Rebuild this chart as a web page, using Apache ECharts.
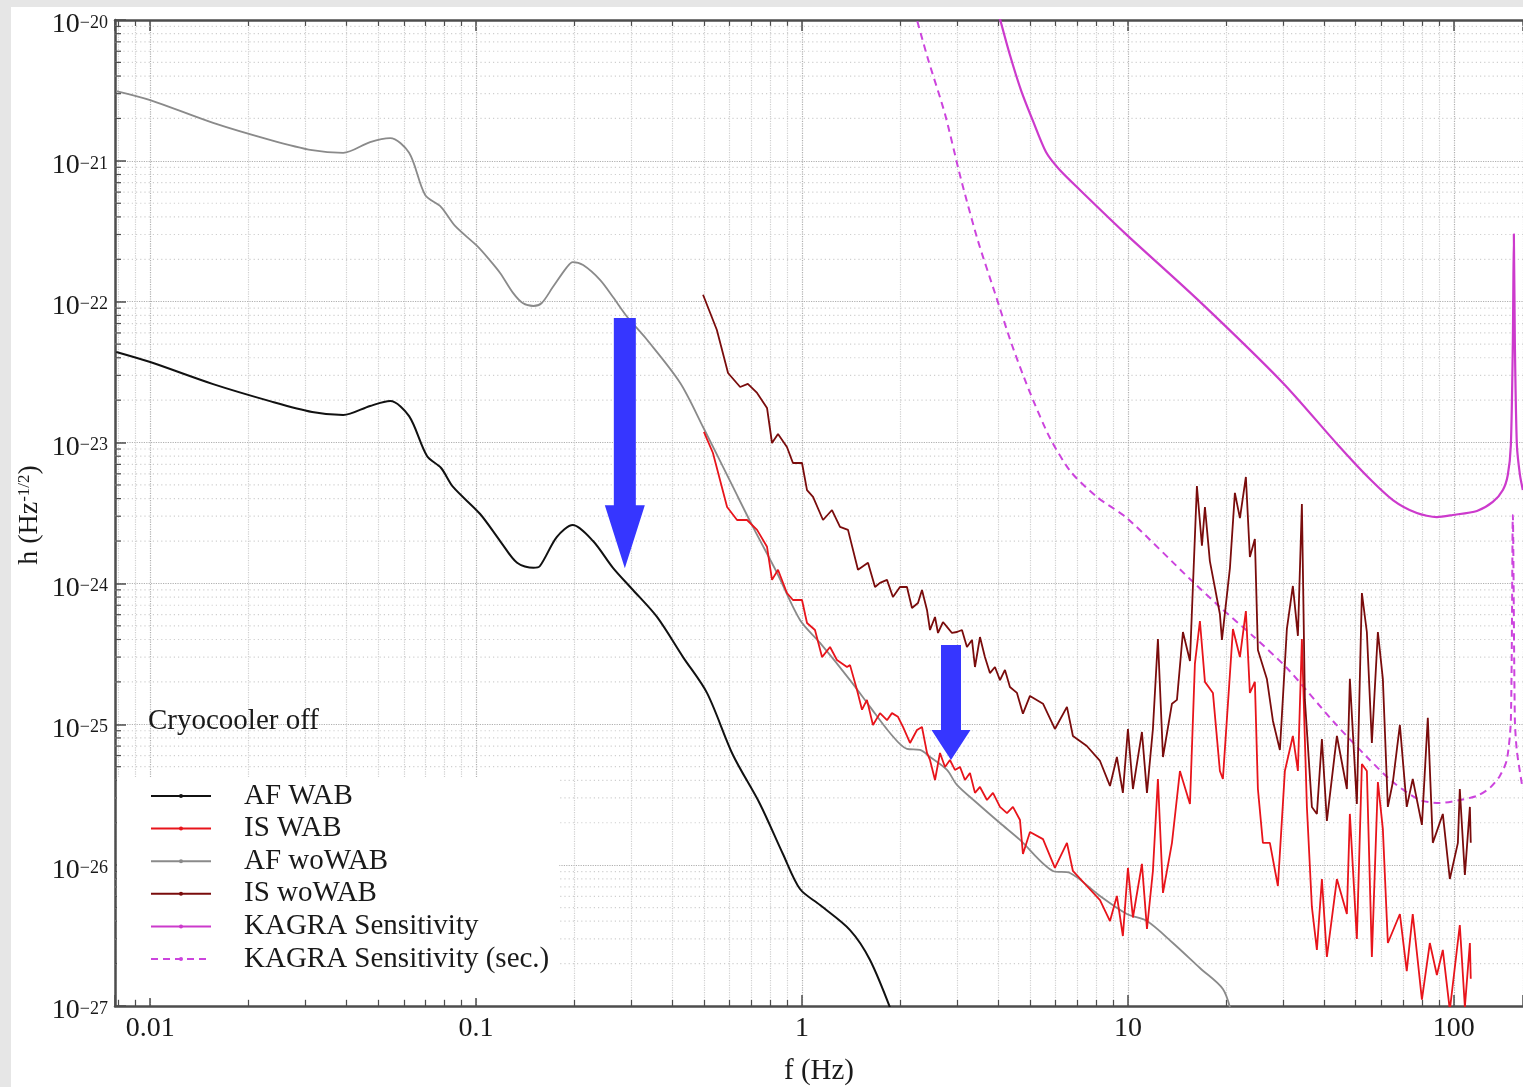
<!DOCTYPE html>
<html>
<head>
<meta charset="utf-8">
<script src="https://cdn.jsdelivr.net/npm/echarts@6/dist/echarts.min.js"></script>
<style>
html, body { margin: 0; padding: 0; background: #e6e6e6; }
#main { position: absolute; left: 11px; top: 7px; width: 1512px; height: 1080px; background: #fff; }
</style>
</head>
<body>
<div id="main"></div>
<script>
// 数据: [f (Hz), h (Hz^-1/2)]
var afWAB = [[0.00787,4.40e-23],[0.01,3.73e-23],[0.0156,2.60e-23],[0.0233,1.97e-23],[0.0314,1.65e-23],[0.0391,1.57e-23],[0.0473,1.82e-23],[0.0545,1.97e-23],[0.0623,1.54e-23],[0.0707,8.03e-24],[0.0781,6.60e-24],[0.085,4.84e-24],[0.1029,3.11e-24],[0.1185,2.00e-24],[0.1336,1.40e-24],[0.150,1.29e-24],[0.157,1.33e-24],[0.177,2.14e-24],[0.198,2.60e-24],[0.2285,2.00e-24],[0.263,1.29e-24],[0.303,8.98e-25],[0.359,5.78e-25],[0.4315,3.00e-25],[0.511,1.67e-25],[0.614,6.05e-26],[0.743,2.72e-26],[0.874,1.20e-26],[0.986,6.77e-27],[1.136,5.21e-27],[1.404,3.46e-27],[1.617,2.12e-27],[1.901,8.6e-28]];

var afWoWAB = [[0.00787,3.13e-21],[0.01,2.70e-21],[0.0156,1.86e-21],[0.0233,1.41e-21],[0.0314,1.19e-21],[0.0391,1.14e-21],[0.0473,1.36e-21],[0.0545,1.45e-21],[0.0623,1.14e-21],[0.0698,5.72e-22],[0.0781,4.70e-22],[0.0862,3.45e-22],[0.1007,2.49e-22],[0.110,1.98e-22],[0.1185,1.60e-22],[0.130,1.15e-22],[0.139,9.79e-23],[0.150,9.32e-23],[0.159,9.79e-23],[0.172,1.27e-22],[0.190,1.76e-22],[0.198,1.91e-22],[0.213,1.82e-22],[0.240,1.43e-22],[0.263,1.08e-22],[0.291,7.79e-23],[0.335,5.35e-23],[0.423,2.65e-23],[0.497,1.29e-23],[0.614,4.84e-24],[0.707,2.52e-24],[0.838,1.19e-24],[0.986,5.50e-25],[1.136,3.78e-25],[1.404,2.06e-25],[1.617,1.33e-25],[1.862,8.67e-26],[2.099,6.68e-26],[2.301,6.57e-26],[2.470,5.86e-26],[2.785,4.74e-26],[2.988,3.71e-26],[3.442,2.76e-26],[4.050,1.99e-26],[4.665,1.51e-26],[5.888,9.09e-27],[6.64,8.80e-27],[8.21,6.04e-27],[9.93,4.50e-27],[11.44,4.01e-27],[13.74,2.80e-27],[16.63,1.86e-27],[19.56,1.32e-27],[20.85,8.6e-28]];

var isWAB = [[0.5,1.19e-23],[0.533,8.43e-24],[0.589,3.49e-24],[0.632,2.82e-24],[0.678,2.82e-24],[0.728,2.40e-24],[0.781,1.82e-24],[0.809,1.06e-24],[0.844,1.25e-24],[0.899,8.55e-25],[0.938,7.63e-25],[1.0,7.63e-25],[1.036,5.24e-25],[1.096,4.67e-25],[1.152,3.00e-25],[1.219,3.54e-25],[1.280,2.86e-25],[1.374,2.55e-25],[1.404,2.63e-25],[1.475,1.75e-25],[1.528,1.27e-25],[1.582,1.49e-25],[1.651,9.89e-26],[1.735,1.20e-25],[1.823,1.07e-25],[1.888,1.20e-25],[1.970,1.13e-25],[2.041,9.57e-26],[2.145,7.37e-26],[2.253,9.11e-26],[2.334,9.57e-26],[2.418,6.26e-26],[2.470,5.58e-26],[2.559,4.02e-26],[2.651,6.26e-26],[2.746,4.98e-26],[2.844,5.58e-26],[2.946,4.74e-26],[3.053,4.98e-26],[3.162,4.02e-26],[3.276,4.51e-26],[3.394,3.26e-26],[3.516,3.59e-26],[3.694,2.90e-26],[3.854,3.26e-26],[4.050,2.59e-26],[4.255,2.34e-26],[4.438,2.59e-26],[4.665,2.09e-26],[4.763,1.20e-26],[5.005,1.72e-26],[5.488,1.53e-26],[5.97,9.55e-27],[6.50,1.44e-26],[6.78,9.09e-27],[7.48,7.11e-27],[8.21,5.65e-27],[8.81,4.01e-27],[9.25,6.04e-27],[9.65,3.14e-27],[10.0,9.55e-27],[10.36,4.25e-27],[11.04,1.02e-26],[11.44,3.52e-27],[11.93,9.09e-27],[12.36,4.09e-26],[12.81,6.35e-27],[13.65,1.44e-26],[14.44,4.66e-26],[15.50,2.72e-26],[16.05,2.68e-25],[16.63,5.41e-25],[17.23,2.00e-25],[18.23,1.67e-25],[19.15,4.66e-26],[19.56,4.09e-26],[21.0,4.75e-25],[22.06,3.00e-25],[23.01,6.37e-25],[23.67,1.67e-25],[24.52,2.00e-25],[25.05,3.47e-26],[25.95,1.44e-26],[27.26,1.44e-26],[28.85,7.11e-27],[30.31,4.66e-26],[32.07,8.26e-26],[33.23,4.66e-26],[34.18,4.03e-25],[35.41,2.59e-26],[36.68,5.05e-27],[38.00,2.50e-27],[39.37,7.97e-27],[40.78,2.23e-27],[43.77,7.97e-27],[46.97,4.50e-27],[47.97,2.31e-26],[50.40,2.99e-27],[52.22,5.22e-26],[54.09,4.66e-26],[56.04,2.23e-27],[58.47,3.89e-26],[60.56,1.81e-26],[62.74,2.80e-27],[68.3,4.50e-27],[71.7,1.77e-27],[74.8,4.50e-27],[79.8,1.11e-27],[84.4,2.80e-27],[88.7,1.66e-27],[92.5,2.50e-27],[97.2,9.37e-28],[104.3,3.76e-27],[108.1,9.84e-28],[112.0,2.80e-27],[112.7,1.56e-27]];

var isWoWAB = [[0.497,1.12e-22],[0.548,6.30e-23],[0.593,3.12e-23],[0.646,2.48e-23],[0.682,2.61e-23],[0.728,2.25e-23],[0.781,1.76e-23],[0.809,9.93e-24],[0.844,1.15e-23],[0.899,9.30e-24],[0.938,7.16e-24],[1.0,7.16e-24],[1.036,4.60e-24],[1.081,4.11e-24],[1.160,2.82e-24],[1.236,3.32e-24],[1.308,2.52e-24],[1.384,2.40e-24],[1.485,1.25e-24],[1.594,1.40e-24],[1.675,9.43e-25],[1.735,1.01e-24],[1.823,1.06e-24],[1.901,8.01e-25],[1.998,9.43e-25],[2.099,9.43e-25],[2.175,6.69e-25],[2.269,7.26e-25],[2.334,8.98e-25],[2.418,6.48e-25],[2.470,4.67e-25],[2.559,5.78e-25],[2.614,4.45e-25],[2.707,5.32e-25],[2.785,4.91e-25],[2.885,4.45e-25],[2.988,4.52e-25],[3.096,4.67e-25],[3.207,3.54e-25],[3.323,3.97e-25],[3.394,2.55e-25],[3.516,4.16e-25],[3.641,3.00e-25],[3.772,2.31e-25],[3.908,2.55e-25],[4.050,2.06e-25],[4.195,2.43e-25],[4.345,1.84e-25],[4.566,1.67e-25],[4.763,1.19e-25],[5.005,1.59e-25],[5.488,1.40e-25],[5.97,9.26e-26],[6.50,1.33e-25],[6.78,8.26e-26],[7.48,7.01e-26],[8.21,5.49e-26],[8.81,3.65e-26],[9.25,5.86e-26],[9.65,3.26e-26],[10.0,9.26e-26],[10.36,3.47e-26],[11.04,8.82e-26],[11.44,3.26e-26],[11.93,9.26e-26],[12.36,4.03e-25],[12.81,5.86e-26],[13.65,1.40e-25],[14.14,1.49e-25],[14.75,4.52e-25],[15.50,2.81e-25],[16.28,4.92e-24],[16.87,1.85e-24],[17.23,3.49e-24],[17.84,1.44e-24],[19.15,6.07e-25],[19.43,3.97e-25],[20.56,1.29e-24],[21.29,4.39e-24],[22.06,2.91e-24],[23.01,5.70e-24],[23.67,1.54e-24],[24.52,2.07e-24],[25.05,3.37e-25],[26.69,2.10e-25],[27.85,1.06e-25],[29.26,6.57e-26],[30.74,4.75e-25],[32.07,9.59e-25],[33.23,4.24e-25],[34.18,3.66e-24],[34.91,1.49e-25],[36.68,2.59e-26],[38.00,2.31e-26],[39.37,7.86e-26],[40.78,2.06e-26],[43.77,8.26e-26],[46.97,3.47e-26],[47.97,2.10e-25],[50.40,2.72e-26],[52.22,8.55e-25],[54.09,4.52e-25],[56.04,7.37e-26],[58.47,4.52e-25],[60.56,2.10e-25],[62.74,2.59e-26],[65.0,3.89e-26],[68.3,9.89e-26],[71.7,2.59e-26],[74.8,4.09e-26],[79.8,1.93e-26],[83.2,1.11e-25],[86.2,1.44e-26],[92.5,2.31e-26],[97.2,7.97e-27],[102.9,1.44e-26],[104.3,3.47e-26],[108.1,8.51e-27],[112.0,2.59e-26],[112.7,1.44e-26]];

var kagra = [[4.02,1.085e-20],[4.345,5.64e-21],[4.697,3.18e-21],[5.112,1.92e-21],[5.605,1.155e-21],[6.14,8.76e-22],[7.126,6.21e-22],[9.86,3.02e-22],[16.40,1.03e-22],[29.9,2.65e-23],[44.1,9.61e-24],[54.1,5.79e-24],[65.0,3.91e-24],[77.0,3.16e-24],[88.7,2.96e-24],[99.3,3.06e-24],[117.7,3.27e-24],[131.7,3.79e-24],[141.4,4.61e-24],[146.4,5.89e-24],[149.6,9.61e-24],[151.7,5.09e-23],[152.8,3.02e-22],[153.9,5.09e-23],[156.1,9.61e-24],[159.4,5.98e-24],[162.8,4.61e-24]];

var kagraSec = [[2.208,1.18e-20],[2.435,5.29e-21],[2.746,2.15e-21],[3.074,7.43e-22],[3.467,2.70e-22],[3.908,1.153e-22],[4.408,4.93e-23],[4.970,2.36e-23],[5.765,1.077e-23],[6.687,6.18e-24],[8.034,4.11e-24],[9.93,2.91e-24],[15.50,1.075e-24],[19.15,6.80e-25],[24.17,4.24e-25],[30.74,2.51e-25],[42.55,1.055e-25],[54.09,5.86e-26],[65.0,3.89e-26],[78.65,2.90e-26],[90.6,2.76e-26],[104.3,2.90e-26],[117.7,3.10e-26],[128.9,3.53e-26],[138.4,4.30e-26],[145.4,5.58e-26],[149.6,1.073e-25],[151.7,3.06e-24],[153.9,1.073e-25],[156.1,6.46e-26],[161.7,3.77e-26]];

// 蓝色箭头: [f, h(箭尾), h(箭头尖)]
var arrows = [[0.286, 7.66e-23, 1.28e-24], [2.865, 3.65e-25, 5.58e-26]];
var arrowSizes = [{shaft: 22, head: 40, headLen: 63}, {shaft: 20, head: 39, headLen: 30}];

var FONT = '"Liberation Serif", "Times New Roman", serif';
var TXT = '#1a1a1a';
var AX = '#4d4d4d';
var X_MIN = 0.0078, X_MAX = 163;
var Y_MIN = 0.99999e-27, Y_MAX = 1e-20;

// y 轴次网格 (2..9 × 10^n)
var yMinor = [];
for (var e = -27; e < -20; e++) {
    for (var k = 2; k <= 9; k++) yMinor.push([1, k * Math.pow(10, e)]);
}

var myChart = echarts.init(document.getElementById('main'));

function xLabel(v) {
    var l = Math.log10(v), n = Math.round(l);
    if (Math.abs(l - n) > 0.01) return '';
    return n < 0 ? v.toFixed(-n) : String(Math.round(v));
}
function yLabel(v) {
    var l = Math.log10(v), n = Math.round(l);
    if (Math.abs(l - n) > 0.01) return '';
    return '{b|10}{s|\u2212' + (-n) + '}';
}

var option = {
    animation: false,
    title: {
        text: 'Cryocooler off', left: 137, top: 700, padding: 0,
        textStyle: {fontFamily: FONT, fontSize: 29, fontWeight: 'normal', color: TXT}
    },
    graphic: [{
        type: 'text', x: 19, y: 508, rotation: Math.PI / 2, z: 10,
        style: {
            text: 'h (Hz{s|-1/2})', align: 'center', verticalAlign: 'middle',
            font: '28px "Liberation Serif", serif', fill: TXT,
            rich: {
                s: {fontFamily: FONT, fontSize: 17, lineHeight: 17, verticalAlign: 'top', fill: TXT}
            }
        }
    }],
    legend: {
        orient: 'vertical', left: 106, top: 770,
        padding: [4, 10, 24, 33],
        backgroundColor: '#fff',
        itemWidth: 60, itemHeight: 5, itemGap: 2.6,
        selectedMode: false,
        textStyle: {fontFamily: FONT, fontSize: 29, color: TXT, lineHeight: 30, padding: [0, 0, 0, 28]},
        data: ['AF WAB', 'IS WAB', 'AF woWAB', 'IS woWAB', 'KAGRA Sensitivity', 'KAGRA Sensitivity (sec.)']
    },
    grid: {left: 104, right: 0, top: 13, bottom: 81, containLabel: false, outerBoundsMode: 'none'},
    xAxis: [{
        type: 'log', logBase: 10, min: X_MIN, max: X_MAX, position: 'bottom',
        axisLine: {show: true, onZero: false, lineStyle: {color: AX, width: 2.5}},
        axisTick: {show: true, inside: true, length: 11, lineStyle: {color: AX, width: 1.5}},
        minorTick: {show: true, splitNumber: 9, length: 6, lineStyle: {color: AX, width: 1.2}},
        axisLabel: {formatter: xLabel, margin: 9, fontFamily: FONT, fontSize: 28, color: TXT, lineHeight: 28, showMinLabel: false, showMaxLabel: false},
        splitLine: {show: true, lineStyle: {type: 'dotted', color: '#b0b0b0', width: 1.2}},
        minorSplitLine: {show: true, lineStyle: {type: 'dotted', color: '#cfcfcf', width: 1.2}},
        name: 'f (Hz)', nameLocation: 'middle', nameGap: 51,
        nameTextStyle: {fontFamily: FONT, fontSize: 29, color: TXT}
    }, {
        type: 'log', logBase: 10, min: X_MIN, max: X_MAX, position: 'top',
        axisLine: {show: true, onZero: false, lineStyle: {color: AX, width: 2.5}},
        axisTick: {show: true, inside: true, length: 11, lineStyle: {color: AX, width: 1.5}},
        minorTick: {show: true, splitNumber: 9, length: 6, lineStyle: {color: AX, width: 1.2}},
        axisLabel: {show: false},
        splitLine: {show: false}
    }],
    yAxis: {
        type: 'log', logBase: 10, min: Y_MIN, max: Y_MAX, splitNumber: 7,
        axisLine: {show: true, onZero: false, lineStyle: {color: AX, width: 2.5}},
        axisTick: {show: true, inside: true, length: 11, lineStyle: {color: AX, width: 1.5}},
        axisLabel: {
            formatter: yLabel, margin: 7, color: TXT,
            showMinLabel: true, showMaxLabel: true, hideOverlap: false,
            rich: {
                b: {fontFamily: FONT, fontSize: 28, lineHeight: 28, padding: [10, 0, 0, 0], color: TXT},
                s: {fontFamily: FONT, fontSize: 18, lineHeight: 18, verticalAlign: 'top', padding: [8, 0, 0, 0], color: TXT}
            }
        },
        splitLine: {show: true, lineStyle: {type: 'dotted', color: '#b0b0b0', width: 1.2}}
    },
    series: [{
        name: 'yMinorGrid', type: 'custom', silent: true, z: 1,
        data: yMinor,
        renderItem: function (params, api) {
            var p = api.coord([1, api.value(1)]);
            var cs = params.coordSys;
            return {
                type: 'group', children: [
                    {type: 'line', shape: {x1: cs.x, y1: p[1], x2: cs.x + cs.width, y2: p[1]},
                     style: {stroke: '#cfcfcf', lineWidth: 1.2, lineDash: [1.2, 3]}},
                    {type: 'line', shape: {x1: cs.x, y1: p[1], x2: cs.x + 6, y2: p[1]},
                     style: {stroke: AX, lineWidth: 1.2}}
                ]
            };
        }
    }, {
        name: 'AF WAB', type: 'line', data: afWAB, symbol: 'none', smooth: 0.3, z: 3,
        lineStyle: {color: '#111111', width: 2}, itemStyle: {color: '#111111'}
    }, {
        name: 'IS WAB', type: 'line', data: isWAB, symbol: 'none', z: 4,
        lineStyle: {color: '#e8141b', width: 1.8}, itemStyle: {color: '#e8141b'}
    }, {
        name: 'AF woWAB', type: 'line', data: afWoWAB, symbol: 'none', smooth: 0.3, z: 3,
        lineStyle: {color: '#8a8a8a', width: 1.8}, itemStyle: {color: '#8a8a8a'}
    }, {
        name: 'IS woWAB', type: 'line', data: isWoWAB, symbol: 'none', z: 4,
        lineStyle: {color: '#7a0c0c', width: 1.8}, itemStyle: {color: '#7a0c0c'}
    }, {
        name: 'KAGRA Sensitivity', type: 'line', data: kagra, symbol: 'none', smooth: 0.25, z: 3,
        lineStyle: {color: '#cc3acc', width: 2.2}, itemStyle: {color: '#cc3acc'}
    }, {
        name: 'KAGRA Sensitivity (sec.)', type: 'line', data: kagraSec, symbol: 'none', smooth: 0.25, z: 3,
        lineStyle: {color: '#cc44dd', width: 2, type: [7, 5]}, itemStyle: {color: '#cc44dd'}
    }, {
        name: 'arrows', type: 'custom', silent: true, z: 6,
        data: arrows,
        encode: {x: 0, y: 1},
        renderItem: function (params, api) {
            var top = api.coord([api.value(0), api.value(1)]);
            var tip = api.coord([api.value(0), api.value(2)]);
            var s = arrowSizes[params.dataIndex];
            var x = tip[0], hy = tip[1] - s.headLen;
            return {
                type: 'polygon',
                shape: {points: [[x - s.shaft / 2, top[1]], [x + s.shaft / 2, top[1]], [x + s.shaft / 2, hy],
                    [x + s.head / 2, hy], [x, tip[1]], [x - s.head / 2, hy], [x - s.shaft / 2, hy]]},
                style: {fill: '#3636ff'}
            };
        }
    }]
};
myChart.setOption(option);
</script>
</body>
</html>
